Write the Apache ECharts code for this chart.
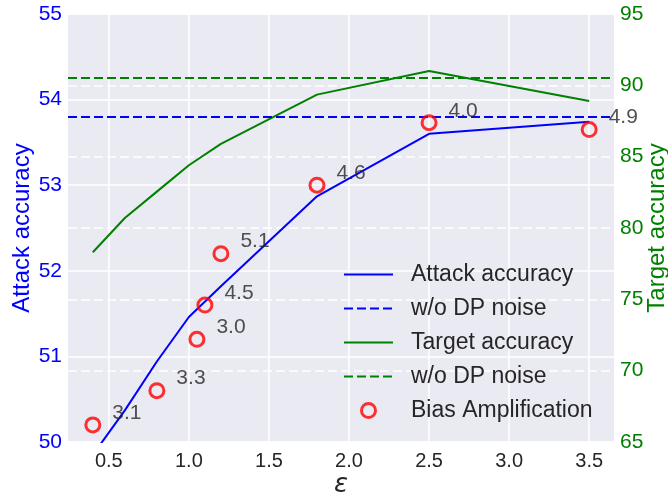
<!DOCTYPE html>
<html>
<head>
<meta charset="utf-8">
<script src="https://cdn.jsdelivr.net/npm/echarts@6/dist/echarts.min.js"></script>
<style>
html,body{margin:0;padding:0;background:#fff;}
#chart{width:668px;height:498px;}
</style>
</head>
<body>
<div id="chart"></div>
<script>
// epsilon values for the accuracy curves
const epsLine = [0.4, 0.6, 0.8, 1.0, 1.2, 1.8, 2.5, 3.5];
const attackAcc = [49.85, 50.37, 50.94, 51.46, 51.82, 52.87, 53.60, 53.74];
const targetAcc = [78.3, 80.7, 82.55, 84.4, 85.9, 89.35, 91.0, 88.9];
// reference values without DP noise
const noDPAttack = 53.8;
const noDPTarget = 90.5;
// bias amplification markers
const biasEps = [0.4, 0.8, 1.05, 1.1, 1.2, 1.8, 2.5, 3.5];
const biasAcc = [50.2, 50.6, 51.2, 51.6, 52.2, 53.0, 53.73, 53.65];
const biasAmp = ['3.1', '3.3', '3.0', '4.5', '5.1', '4.6', '4.0', '4.9'];
// tick labels
const xTicks = [0.5, 1.0, 1.5, 2.0, 2.5, 3.0, 3.5];

const FONT = 'Liberation Sans, Arial, sans-serif';
const chart = echarts.init(document.getElementById('chart'), null, {renderer: 'canvas'});

const attackData = epsLine.map((x, i) => [x, attackAcc[i]]);
const targetData = epsLine.map((x, i) => [x, targetAcc[i]]);
const biasData = biasEps.map((x, i) => [x, biasAcc[i]]);

const hideSym = {color: 'transparent', borderColor: 'transparent', borderWidth: 0, opacity: 0};

const option = {
  animation: false,
  backgroundColor: '#ffffff',
  textStyle: {fontFamily: FONT},
  grid: {
    left: 68, right: 54, top: 14, bottom: 56,
    containLabel: false, outerBoundsMode: 'none',
    show: true, backgroundColor: '#EAEAF2', borderWidth: 0
  },
  legend: {
    orient: 'vertical',
    left: 338, top: 258,
    itemWidth: 49, itemHeight: 14, itemGap: 11,
    textStyle: {fontFamily: FONT, fontSize: 23, color: '#262626', padding: [0, 0, 0, 13]},
    data: [
      {name: 'Attack accuracy', itemStyle: hideSym},
      {name: 'w/o DP noise', itemStyle: hideSym},
      {name: 'Target accuracy', itemStyle: hideSym},
      {name: 'w/o DP noise ', itemStyle: hideSym},
      {name: 'Bias Amplification', itemStyle: {color: 'transparent', borderColor: '#ff0000', borderWidth: 3}}
    ]
  },
  xAxis: {
    type: 'value',
    min: 0.245, max: 3.655,
    name: 'ε', nameLocation: 'middle', nameGap: 30, nameMoveOverlap: false,
    nameTextStyle: {fontFamily: 'DejaVu Sans', fontStyle: 'italic', fontSize: 26, color: '#262626'},
    axisLine: {show: false},
    axisTick: {show: false, customValues: xTicks},
    axisLabel: {customValues: xTicks, fontSize: 20, color: '#262626', margin: 9, fontFamily: FONT,
      formatter: v => v.toFixed(1)},
    splitLine: {show: true, lineStyle: {color: '#ffffff', width: 1.5}}
  },
  yAxis: [{
    type: 'value', min: 50, max: 55, interval: 1, position: 'left',
    name: 'Attack accuracy', nameLocation: 'middle', nameGap: 34, nameRotate: 90, nameMoveOverlap: false,
    nameTextStyle: {fontSize: 24, color: '#0000ff', fontFamily: FONT},
    axisLine: {show: false}, axisTick: {show: false},
    axisLabel: {fontSize: 21, color: '#0000ff', margin: 6, fontFamily: FONT},
    splitLine: {show: true, lineStyle: {color: '#ffffff', width: 1.5}}
  }, {
    type: 'value', min: 65, max: 95, interval: 5, position: 'right',
    name: 'Target accuracy', nameLocation: 'middle', nameGap: 31, nameRotate: 90, nameMoveOverlap: false,
    nameTextStyle: {fontSize: 24, color: '#008000', fontFamily: FONT},
    axisLine: {show: false}, axisTick: {show: false},
    axisLabel: {fontSize: 21, color: '#008000', margin: 6, fontFamily: FONT},
    splitLine: {show: true, lineStyle: {color: '#ffffff', width: 1.5, type: [9, 4]}}
  }],
  series: [
    {
      name: 'Attack accuracy', type: 'line', yAxisIndex: 0, data: attackData,
      symbol: 'none', clip: true, z: 3,
      lineStyle: {color: '#0000ff', width: 2}, itemStyle: {color: '#0000ff'}
    },
    {
      name: 'w/o DP noise', type: 'line', yAxisIndex: 0, data: [],
      symbol: 'none', z: 3,
      lineStyle: {color: '#0000ff', width: 2, type: [9, 4]}, itemStyle: {color: '#0000ff'},
      markLine: {
        silent: true, symbol: 'none', label: {show: false},
        lineStyle: {color: '#0000ff', width: 2, type: [9, 4]},
        data: [{yAxis: noDPAttack}]
      }
    },
    {
      name: 'Target accuracy', type: 'line', yAxisIndex: 1, data: targetData,
      symbol: 'none', z: 3,
      lineStyle: {color: '#008000', width: 2}, itemStyle: {color: '#008000'}
    },
    {
      name: 'w/o DP noise ', type: 'line', yAxisIndex: 1, data: [],
      symbol: 'none', z: 3,
      lineStyle: {color: '#008000', width: 2, type: [9, 4]}, itemStyle: {color: '#008000'},
      markLine: {
        silent: true, symbol: 'none', label: {show: false},
        lineStyle: {color: '#008000', width: 2, type: [9, 4]},
        data: [{yAxis: noDPTarget}]
      }
    },
    {
      name: 'Bias Amplification', type: 'scatter', yAxisIndex: 0, data: biasData,
      symbol: 'circle', symbolSize: 14, z: 5,
      itemStyle: {color: 'rgba(0,0,0,0)', borderColor: '#ff0000', borderWidth: 3},
      label: {
        show: true, position: 'right', distance: 5, offset: [6, -12],
        fontSize: 21, color: '#262626', fontFamily: FONT,
        formatter: p => biasAmp[p.dataIndex]
      }
    }
  ]
};
chart.setOption(option);
</script>
</body>
</html>
